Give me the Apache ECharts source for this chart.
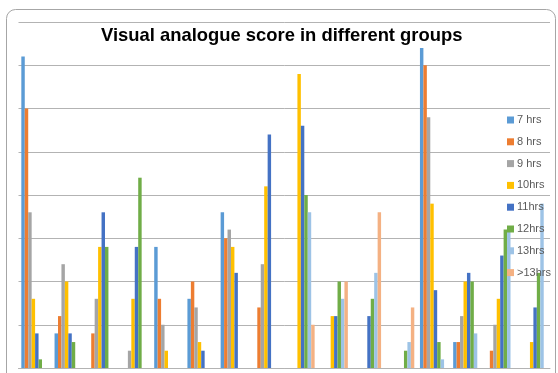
<!DOCTYPE html>
<html>
<head>
<meta charset="utf-8">
<script src="https://cdn.jsdelivr.net/npm/echarts@6/dist/echarts.min.js"></script>
<style>
  html, body { margin: 0; padding: 0; background: #ffffff; }
  #chart { width: 558px; height: 373px; }
</style>
</head>
<body>
<div id="chart"></div>
<script>
// Groups along the horizontal axis (labels are not shown)
const groups = ['G1', 'G2', 'G3', 'G4', 'G5', 'G6', 'G7', 'G8',
                'G9', 'G10', 'G11', 'G12', 'G13', 'G14', 'G15', 'G16'];

// Sleep-duration series
const seriesNames = ['7 hrs', '8 hrs', '9 hrs', '10hrs', '11hrs', '12hrs', '13hrs', '>13hrs'];

const hrs7   = [36, 4, 0, 0, 14, 8, 18, 0, 0, 0, 0, 0, 37, 3, 0, 0];
const hrs8   = [30, 6, 4, 0, 8, 10, 15, 7, 0, 0, 0, 0, 35, 3, 2, 0];
const hrs9   = [18, 12, 8, 2, 5, 7, 16, 12, 0, 0, 0, 0, 29, 6, 5, 0];
const hrs10  = [8, 10, 14, 8, 2, 3, 14, 21, 34, 6, 0, 0, 19, 10, 8, 3];
const hrs11  = [4, 4, 18, 14, 0, 2, 11, 27, 28, 6, 6, 0, 9, 11, 13, 7];
const hrs12  = [1, 3, 14, 22, 0, 0, 0, 0, 20, 10, 8, 2, 3, 10, 16, 11];
const hrs13  = [0, 0, 0, 0, 0, 0, 0, 0, 18, 8, 11, 3, 1, 4, 16, 19];
const hrs13p = [0, 0, 0, 0, 0, 0, 0, 0, 5, 10, 18, 7, 0, 0, 0, 0];

const values = [hrs7, hrs8, hrs9, hrs10, hrs11, hrs12, hrs13, hrs13p];
const colors = ['#5B9BD5', '#ED7D31', '#A5A5A5', '#FFC000',
                '#4472C4', '#70AD47', '#9DC3E6', '#F4B183'];

const chart = echarts.init(document.getElementById('chart'), null, { renderer: 'canvas' });

chart.setOption({
  animation: false,
  backgroundColor: '#ffffff',
  color: colors,
  title: {
    text: 'Visual analogue score in different groups',
    left: 101,
    top: 27,
    padding: 0,
    textStyle: {
      fontFamily: 'Liberation Sans',
      fontWeight: 'bold',
      fontSize: 18.4,
      color: '#000000'
    }
  },
  legend: {
    orient: 'vertical',
    left: 507,
    top: 113,
    padding: 0,
    itemWidth: 7,
    itemHeight: 7,
    itemGap: 7.8,
    icon: 'rect',
    data: seriesNames,
    textStyle: {
      fontFamily: 'Liberation Sans',
      fontSize: 11,
      lineHeight: 14,
      color: '#595959',
      padding: [0, 0, 0, -2]
    }
  },
  grid: {
    left: 18.5,
    right: 8,
    top: 22,
    bottom: 5,
    containLabel: false
  },
  xAxis: {
    type: 'category',
    data: groups,
    axisLine: { show: true, lineStyle: { color: '#b3b3b3', width: 1 } },
    axisTick: { show: false },
    axisLabel: { show: false },
    splitLine: { show: false }
  },
  yAxis: {
    type: 'value',
    min: 0,
    max: 40,
    interval: 5,
    axisLine: { show: false },
    axisTick: { show: false },
    axisLabel: { show: false },
    splitLine: { show: true, lineStyle: { color: '#b3b3b3', width: 1 } }
  },
  graphic: [{
    type: 'rect',
    shape: { x: 6.5, y: 9.5, width: 549, height: 380, r: 9 },
    style: { fill: 'none', stroke: '#a6a6a6', lineWidth: 1 },
    silent: true,
    z: 100
  }],
  series: seriesNames.map((name, i) => ({
    name: name,
    type: 'bar',
    data: values[i],
    barGap: '0%',
    barCategoryGap: '17%',
    itemStyle: { color: colors[i] }
  }))
});
</script>
</body>
</html>
